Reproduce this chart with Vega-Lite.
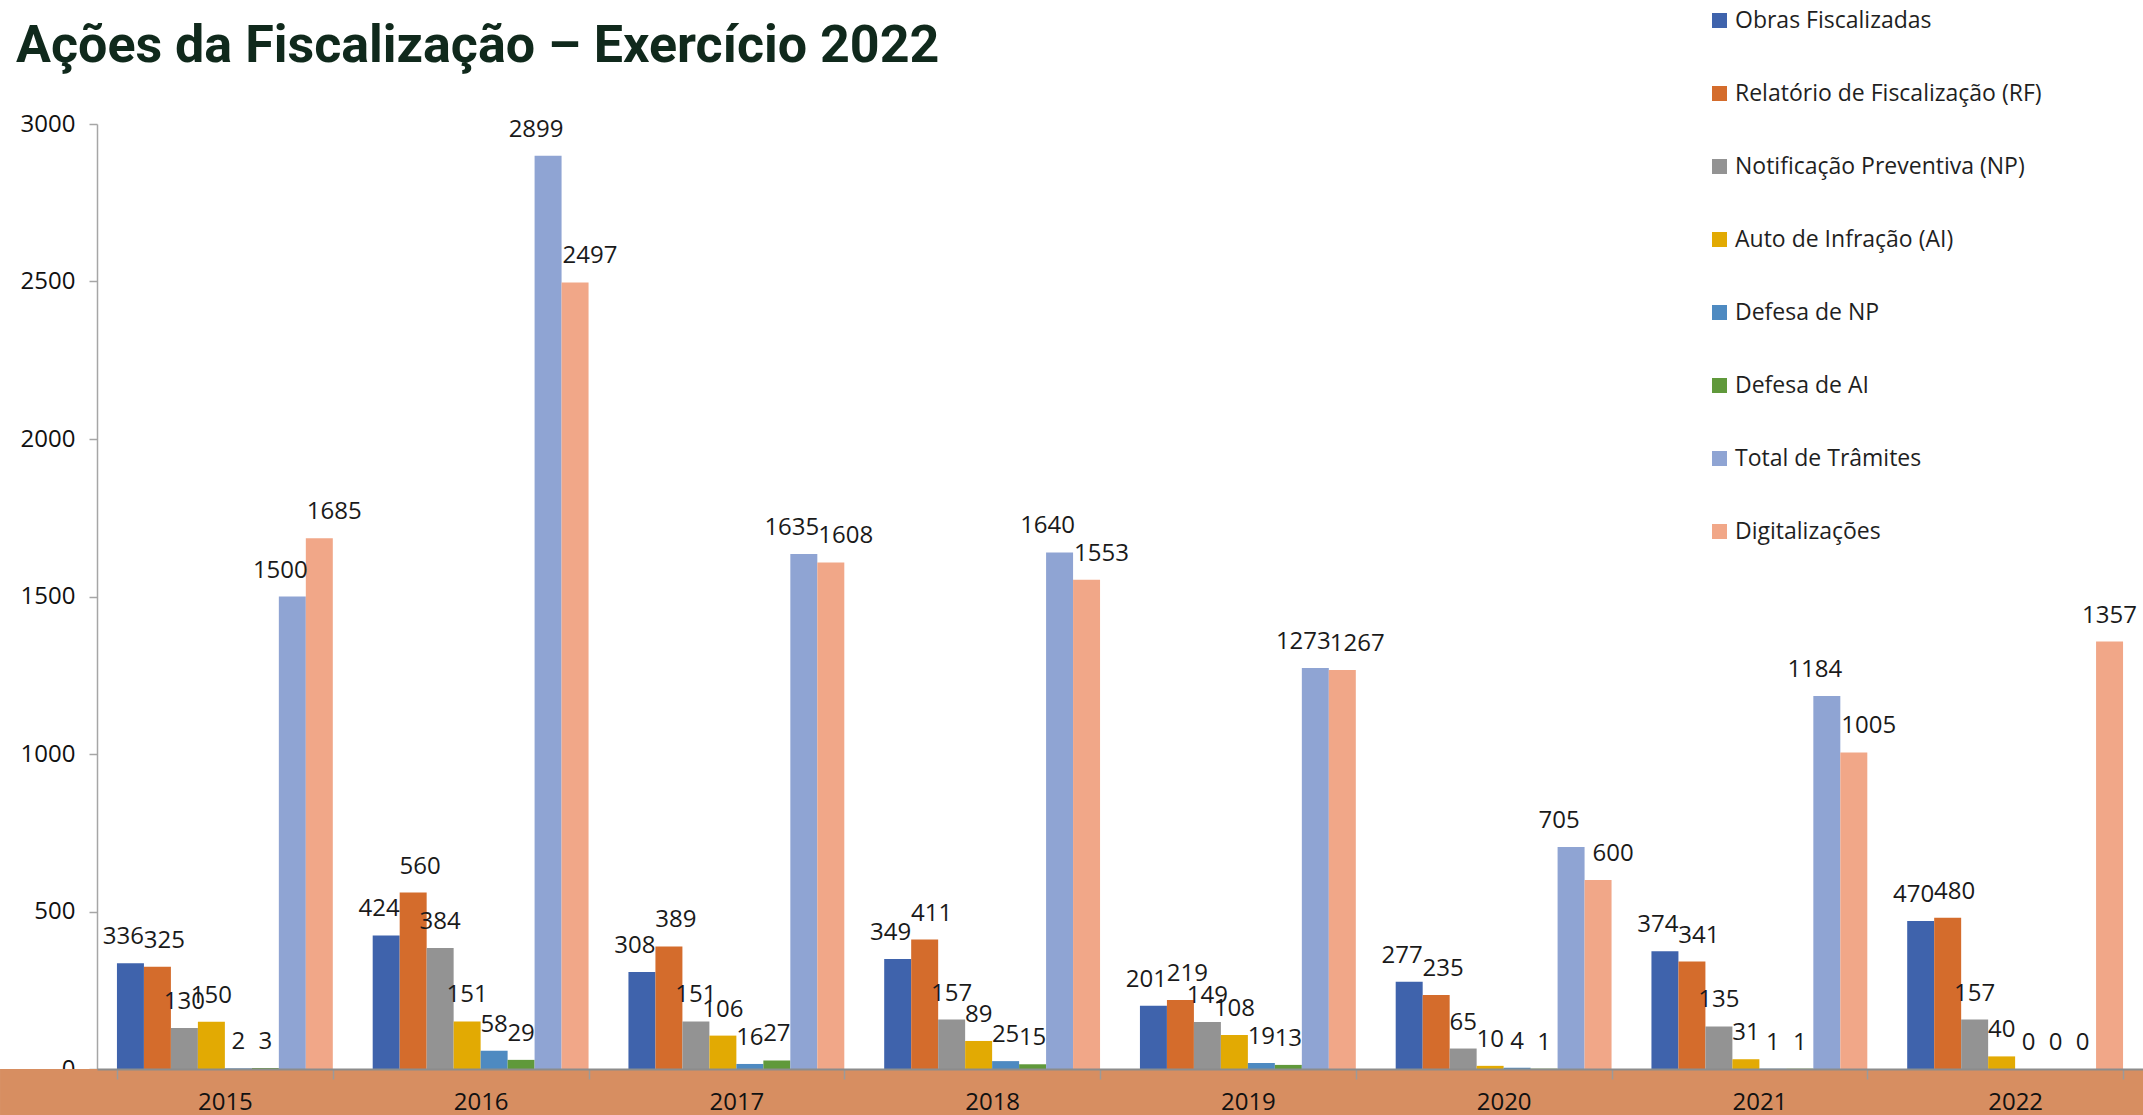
{
  "$schema": "https://vega.github.io/schema/vega-lite/v6.json",
  "width": 2046,
  "height": 945,
  "autosize": {"type": "none"},
  "padding": {"left": 97, "top": 124, "right": 0, "bottom": 46},
  "background": "white",
  "config": {"view": {"stroke": null}},
  "title": {
    "text": "Ações da Fiscalização – Exercício 2022",
    "anchor": "start",
    "frame": "group",
    "font": "Roboto",
    "fontSize": 52,
    "fontWeight": "bold",
    "color": "#10291C",
    "baseline": "alphabetic",
    "dx": -81,
    "dy": 115,
    "offset": 10
  },
  "data": {
    "values": [
      {"year": "2015", "serie": "Obras Fiscalizadas", "value": 336},
      {"year": "2015", "serie": "Relatório de Fiscalização (RF)", "value": 325},
      {"year": "2015", "serie": "Notificação Preventiva (NP)", "value": 130},
      {"year": "2015", "serie": "Auto de Infração (AI)", "value": 150},
      {"year": "2015", "serie": "Defesa de NP", "value": 2},
      {"year": "2015", "serie": "Defesa de AI", "value": 3},
      {"year": "2015", "serie": "Total de Trâmites", "value": 1500},
      {"year": "2015", "serie": "Digitalizações", "value": 1685},
      {"year": "2016", "serie": "Obras Fiscalizadas", "value": 424},
      {"year": "2016", "serie": "Relatório de Fiscalização (RF)", "value": 560},
      {"year": "2016", "serie": "Notificação Preventiva (NP)", "value": 384},
      {"year": "2016", "serie": "Auto de Infração (AI)", "value": 151},
      {"year": "2016", "serie": "Defesa de NP", "value": 58},
      {"year": "2016", "serie": "Defesa de AI", "value": 29},
      {"year": "2016", "serie": "Total de Trâmites", "value": 2899},
      {"year": "2016", "serie": "Digitalizações", "value": 2497},
      {"year": "2017", "serie": "Obras Fiscalizadas", "value": 308},
      {"year": "2017", "serie": "Relatório de Fiscalização (RF)", "value": 389},
      {"year": "2017", "serie": "Notificação Preventiva (NP)", "value": 151},
      {"year": "2017", "serie": "Auto de Infração (AI)", "value": 106},
      {"year": "2017", "serie": "Defesa de NP", "value": 16},
      {"year": "2017", "serie": "Defesa de AI", "value": 27},
      {"year": "2017", "serie": "Total de Trâmites", "value": 1635},
      {"year": "2017", "serie": "Digitalizações", "value": 1608},
      {"year": "2018", "serie": "Obras Fiscalizadas", "value": 349},
      {"year": "2018", "serie": "Relatório de Fiscalização (RF)", "value": 411},
      {"year": "2018", "serie": "Notificação Preventiva (NP)", "value": 157},
      {"year": "2018", "serie": "Auto de Infração (AI)", "value": 89},
      {"year": "2018", "serie": "Defesa de NP", "value": 25},
      {"year": "2018", "serie": "Defesa de AI", "value": 15},
      {"year": "2018", "serie": "Total de Trâmites", "value": 1640},
      {"year": "2018", "serie": "Digitalizações", "value": 1553},
      {"year": "2019", "serie": "Obras Fiscalizadas", "value": 201},
      {"year": "2019", "serie": "Relatório de Fiscalização (RF)", "value": 219},
      {"year": "2019", "serie": "Notificação Preventiva (NP)", "value": 149},
      {"year": "2019", "serie": "Auto de Infração (AI)", "value": 108},
      {"year": "2019", "serie": "Defesa de NP", "value": 19},
      {"year": "2019", "serie": "Defesa de AI", "value": 13},
      {"year": "2019", "serie": "Total de Trâmites", "value": 1273},
      {"year": "2019", "serie": "Digitalizações", "value": 1267},
      {"year": "2020", "serie": "Obras Fiscalizadas", "value": 277},
      {"year": "2020", "serie": "Relatório de Fiscalização (RF)", "value": 235},
      {"year": "2020", "serie": "Notificação Preventiva (NP)", "value": 65},
      {"year": "2020", "serie": "Auto de Infração (AI)", "value": 10},
      {"year": "2020", "serie": "Defesa de NP", "value": 4},
      {"year": "2020", "serie": "Defesa de AI", "value": 1},
      {"year": "2020", "serie": "Total de Trâmites", "value": 705},
      {"year": "2020", "serie": "Digitalizações", "value": 600},
      {"year": "2021", "serie": "Obras Fiscalizadas", "value": 374},
      {"year": "2021", "serie": "Relatório de Fiscalização (RF)", "value": 341},
      {"year": "2021", "serie": "Notificação Preventiva (NP)", "value": 135},
      {"year": "2021", "serie": "Auto de Infração (AI)", "value": 31},
      {"year": "2021", "serie": "Defesa de NP", "value": 1},
      {"year": "2021", "serie": "Defesa de AI", "value": 1},
      {"year": "2021", "serie": "Total de Trâmites", "value": 1184},
      {"year": "2021", "serie": "Digitalizações", "value": 1005},
      {"year": "2022", "serie": "Obras Fiscalizadas", "value": 470},
      {"year": "2022", "serie": "Relatório de Fiscalização (RF)", "value": 480},
      {"year": "2022", "serie": "Notificação Preventiva (NP)", "value": 157},
      {"year": "2022", "serie": "Auto de Infração (AI)", "value": 40},
      {"year": "2022", "serie": "Defesa de NP", "value": 0},
      {"year": "2022", "serie": "Defesa de AI", "value": 0},
      {"year": "2022", "serie": "Total de Trâmites", "value": 0},
      {"year": "2022", "serie": "Digitalizações", "value": 1357}
    ]
  },
  "layer": [
    {
      "data": {"values": [{}]},
      "mark": {"type": "rect", "color": "#D78E61"},
      "encoding": {
        "x": {"datum": -0.0474, "type": "quantitative", "scale": {"domain": [0, 1], "nice": false, "zero": false}, "axis": null},
        "x2": {"datum": 1},
        "y": {"datum": 0, "type": "quantitative", "scale": {"domain": [0, 3000], "nice": false}},
        "y2": {"datum": -170}
      }
    },
    {
      "encoding": {
        "x": {
          "field": "year", "type": "nominal",
          "scale": {"paddingInner": 0.156, "paddingOuter": 0.078},
          "axis": {
            "title": null, "labelAngle": 0, "labelFont": "Open Sans", "labelFontSize": 24,
            "labelColor": "#111111", "tickBand": "extent", "tickSize": 10, "tickColor": "#9a9a9a",
            "tickWidth": 1.5, "domainColor": "#8c8c8c", "domainWidth": 2, "labelPadding": 23,
            "labelBaseline": "middle", "zindex": 1
          }
        },
        "xOffset": {
          "field": "serie", "type": "nominal",
          "sort": ["Obras Fiscalizadas", "Relatório de Fiscalização (RF)", "Notificação Preventiva (NP)", "Auto de Infração (AI)", "Defesa de NP", "Defesa de AI", "Total de Trâmites", "Digitalizações"],
          "scale": {"paddingInner": 0, "paddingOuter": 0}
        },
        "y": {
          "field": "value", "type": "quantitative",
          "scale": {"domain": [0, 3000], "nice": false},
          "axis": {
            "title": null, "values": [0, 500, 1000, 1500, 2000, 2500, 3000], "format": "d",
            "labelFont": "Open Sans", "labelFontSize": 24, "labelColor": "#111111",
            "tickSize": 8, "tickColor": "#a6a6a6", "tickWidth": 1.5, "labelPadding": 14,
            "domainColor": "#a6a6a6", "domainWidth": 1.5,
            "gridColor": "#a6a6a6", "gridWidth": 1.5
          }
        },
        "text": {"field": "value", "type": "quantitative"}
      },
      "layer": [
        {
          "mark": {"type": "bar"},
          "encoding": {
            "color": {
              "field": "serie", "type": "nominal",
              "scale": {
                "domain": ["Obras Fiscalizadas", "Relatório de Fiscalização (RF)", "Notificação Preventiva (NP)", "Auto de Infração (AI)", "Defesa de NP", "Defesa de AI", "Total de Trâmites", "Digitalizações"],
                "range": ["#3F63AC", "#D46C2C", "#939393", "#E2AA03", "#4E8AC1", "#60993B", "#8FA4D3", "#F1A788"]
              },
              "legend": {
                "orient": "none", "legendX": 1611, "legendY": -115, "direction": "vertical",
                "title": null, "labelFont": "Open Sans", "labelFontSize": 23, "labelColor": "#1f1f1f",
                "symbolType": "square", "symbolSize": 225, "symbolStrokeWidth": 0,
                "rowPadding": 49, "labelOffset": 4, "padding": 0, "labelLimit": 500
              }
            }
          }
        },
        {
          "transform": [{"filter": "indexof(['Notificação Preventiva (NP)', 'Auto de Infração (AI)', 'Defesa de NP', 'Defesa de AI'], datum.serie) >= 0 || (indexof(['Total de Trâmites', 'Digitalizações'], datum.serie) >= 0 && datum.year == '2022')"}],
          "mark": {"type": "text", "baseline": "alphabetic", "dy": -19, "font": "Open Sans", "fontSize": 24, "color": "#1a1a1a"}
        },
        {
          "transform": [{"filter": "datum.serie == 'Obras Fiscalizadas'"}],
          "mark": {"type": "text", "baseline": "alphabetic", "dy": -19, "dx": -7, "font": "Open Sans", "fontSize": 24, "color": "#1a1a1a"}
        },
        {
          "transform": [{"filter": "datum.serie == 'Relatório de Fiscalização (RF)'"}],
          "mark": {"type": "text", "baseline": "alphabetic", "dy": -19, "dx": 7, "font": "Open Sans", "fontSize": 24, "color": "#1a1a1a"}
        },
        {
          "transform": [{"filter": "datum.serie == 'Total de Trâmites' && datum.year != '2022'"}],
          "mark": {"type": "text", "baseline": "alphabetic", "dy": -19, "dx": -12, "font": "Open Sans", "fontSize": 24, "color": "#1a1a1a"}
        },
        {
          "transform": [{"filter": "datum.serie == 'Digitalizações' && datum.year != '2022'"}],
          "mark": {"type": "text", "baseline": "alphabetic", "dy": -19, "dx": 15, "font": "Open Sans", "fontSize": 24, "color": "#1a1a1a"}
        }
      ]
    }
  ],
  "resolve": {"scale": {"x": "independent"}}
}
